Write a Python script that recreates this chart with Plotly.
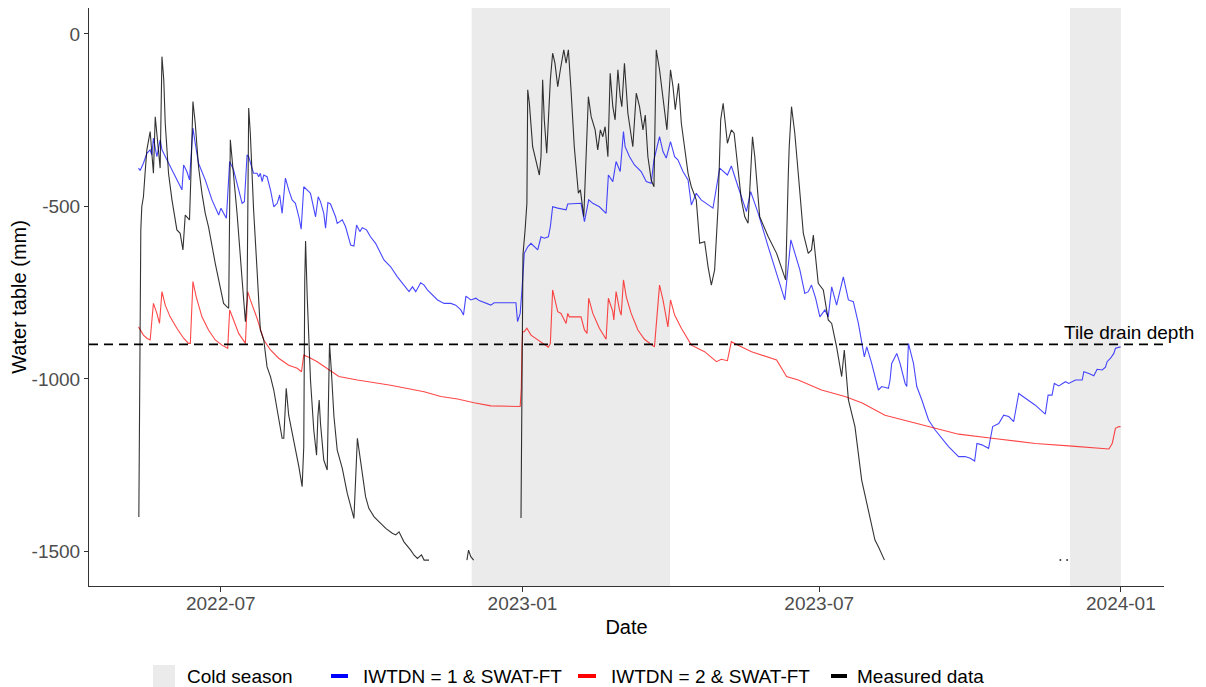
import pandas as pd
import plotly.graph_objects as go

# ---------------- data (days are offsets from 2022-07-01) ----------------
REF_DATE = "2022-07-01"

blue_day = [-50.2,-49.2,-47.2,-45.1,-43.1,-42.1,-41.1,-40.0,-39.0,-37.0,
            -35.9,-32.9,-28.9,-24.8,-23.7,-22.7,-20.7,-19.1,-17.6,-17.0,
            -15.6,-13.6,-9.5,-5.4,-1.3,0.1,1.7,3.4,5.4,7.8,
            10.9,13.0,14.4,16.0,17.0,20.0,22.1,23.1,24.1,25.2,
            26.2,28.2,30.3,32.3,34.4,35.9,37.4,39.4,41.4,43.5,
            45.5,47.6,49.0,50.6,53.7,54.7,57.8,59.4,60.8,62.8,
            63.9,65.3,66.9,70.0,71.0,74.1,76.1,79.2,81.2,82.8,
            84.8,86.3,88.9,91.3,94.4,97.5,99.5,103.6,107.7,111.7,
            114.8,116.9,118.9,121.9,124.0,126.0,129.1,132.2,136.2,140.3,
            143.3,146.4,148.0,149.5,152.5,155.6,157.6,160.6,164.7,166.7,
            170.8,180.0,181.0,182.6,183.7,184.1,185.1,187.2,189.2,193.3,
            195.3,197.3,199.8,201.0,202.4,205.5,210.6,211.6,215.6,219.7,
            221.8,224.4,226.9,230.9,235.0,236.4,239.1,241.1,243.6,245.6,
            246.6,249.3,252.3,256.4,259.5,262.5,264.2,267.6,269.7,271.7,
            274.3,276.8,278.8,281.9,285.0,287.0,290.0,293.0,300.2,304.3,
            309.0,311.4,315.5,318.6,320.6,323.2,327.8,333.9,344.0,347.7,
            353.2,356.2,358.3,360.3,362.8,365.4,368.5,370.5,372.6,375.6,
            379.7,382.8,385.8,388.9,392.5,394.0,397.0,401.1,403.1,407.2,
            408.2,409.2,412.3,414.3,417.4,418.4,419.4,422.5,424.5,427.6,
            431.7,435.7,439.8,443.9,450.0,454.0,457.1,459.8,461.2,464.2,
            468.3,470.8,474.5,477.5,480.6,483.6,486.7,490.7,496.8,502.9,
            504.6,507.0,508.4,511.1,515.2,517.2,521.3,525.4,526.4,529.5,
            532.5,534.5,537.6,539.6,540.6,542.7,544.7,545.7,548.8]
blue_val = [-389,-396,-375,-346,-336,-351,-302,-327,-356,-307,
            -336,-365,-404,-443,-452,-380,-399,-423,-327,-273,
            -317,-375,-423,-481,-525,-505,-520,-534,-370,-394,
            -452,-491,-486,-351,-356,-404,-404,-414,-404,-428,
            -409,-414,-452,-501,-491,-467,-520,-418,-452,-481,
            -491,-530,-566,-443,-457,-462,-530,-472,-486,-520,
            -563,-489,-493,-530,-549,-539,-559,-612,-615,-554,
            -573,-562,-568,-588,-607,-636,-655,-675,-704,-728,
            -747,-733,-747,-721,-728,-742,-757,-771,-781,-781,
            -786,-800,-815,-760,-771,-766,-773,-779,-786,-779,
            -779,-779,-834,-810,-742,-713,-636,-617,-607,-626,
            -588,-592,-588,-559,-501,-505,-510,-493,-491,-491,
            -544,-481,-491,-501,-520,-409,-428,-370,-399,-283,
            -327,-356,-380,-399,-428,-433,-365,-298,-341,-360,
            -312,-356,-365,-399,-423,-496,-462,-481,-505,-389,
            -409,-383,-443,-486,-515,-457,-520,-617,-771,-597,
            -684,-752,-747,-728,-766,-820,-800,-820,-733,-786,
            -704,-771,-776,-839,-936,-907,-955,-1032,-1022,-1027,
            -1003,-955,-926,-955,-1013,-1022,-897,-955,-1022,-1061,
            -1119,-1148,-1172,-1196,-1225,-1225,-1230,-1238,-1187,-1191,
            -1201,-1138,-1129,-1105,-1109,-1124,-1042,-1056,-1076,-1102,
            -1047,-1047,-1013,-1020,-1008,-1013,-1003,-1003,-979,-984,
            -991,-972,-974,-966,-950,-940,-926,-911,-907]

red_day = [-50.2,-49.2,-47.2,-45.1,-43.1,-41.1,-39.0,-37.4,-35.9,-33.9,
           -30.9,-26.8,-22.7,-19.7,-18.6,-17.0,-15.0,-11.5,-7.5,-3.4,
           0.7,4.2,5.4,7.8,10.9,15.0,16.4,18.0,22.1,26.2,
           30.3,35.3,41.4,46.6,49.2,50.6,53.7,58.8,62.8,66.9,
           72.0,83.3,103.6,124.0,134.2,144.4,154.5,164.7,182.6,183.3,
           183.7,184.1,185.1,186.7,189.2,193.3,197.3,199.8,201.0,202.4,
           205.5,207.5,210.6,211.6,212.6,219.7,221.8,223.4,224.4,226.9,
           230.9,235.0,236.4,239.1,239.7,241.1,243.2,244.2,245.6,247.3,
           250.3,254.4,258.4,264.5,267.6,269.7,272.7,274.3,276.8,280.9,
           287.0,295.1,302.3,305.3,309.0,311.4,315.5,323.7,339.0,345.1,
           352.2,366.4,380.7,390.9,405.1,425.5,450.0,470.4,496.8,517.2,
           541.7,543.7,545.7,547.8,548.8]
red_val = [-849,-858,-873,-882,-887,-781,-810,-839,-747,-786,
           -820,-853,-882,-897,-897,-718,-762,-820,-858,-887,
           -902,-911,-800,-829,-868,-897,-747,-771,-824,-887,
           -916,-940,-960,-969,-979,-931,-937,-950,-964,-976,
           -993,-1003,-1018,-1037,-1051,-1058,-1069,-1078,-1080,-1027,
           -906,-863,-863,-853,-873,-887,-902,-908,-897,-742,
           -805,-810,-839,-810,-820,-820,-858,-868,-766,-810,
           -853,-885,-766,-805,-829,-747,-800,-815,-713,-762,
           -810,-858,-885,-907,-728,-771,-849,-771,-815,-853,
           -902,-921,-950,-943,-947,-892,-902,-921,-945,-993,
           -1003,-1032,-1051,-1069,-1105,-1129,-1160,-1172,-1187,-1194,
           -1203,-1187,-1143,-1138,-1138]

# measured data, split into the pieces that are present in the record
meas1_day = [-50.0,-49.2,-48.8,-48.2,-47.2,-46.2,-45.1,-43.1,-42.1,-41.1,
             -40.0,-39.0,-38.0,-37.0,-35.9,-34.8,-33.9,-31.9,-29.8,-26.8,
             -24.8,-23.1,-21.7,-19.1,-18.2,-17.0,-15.6,-13.6,-11.5,-9.5,
             -7.5,-5.4,-3.4,-1.3,1.7,3.8,4.8,5.8,7.8,9.9,
             13.0,15.0,16.0,17.0,18.0,20.0,22.1,24.1,26.2,28.2,
             30.3,32.3,34.4,37.4,38.4,39.9,41.4,43.5,45.5,47.6,
             49.6,50.6,51.2,51.7,52.7,54.7,56.7,58.4,59.2,60.0,
             60.8,62.8,64.9,65.9,66.3,67.4,69.0,71.0,74.1,77.1,
             80.2,81.2,83.3,85.3,88.3,90.3,93.4,95.5,97.5,100.6,
             104.6,106.7,108.7,111.7,115.8,117.8,119.9,122.4,124.0,127.0]
meas1_val = [-1400,-800,-568,-501,-472,-404,-336,-283,-354,-404,
             -240,-298,-346,-389,-66,-133,-259,-404,-481,-568,
             -578,-626,-525,-539,-404,-196,-259,-385,-462,-520,
             -559,-620,-665,-713,-781,-791,-795,-307,-414,-520,
             -713,-834,-771,-215,-288,-510,-684,-858,-887,-965,
             -993,-1032,-1090,-1172,-1172,-1027,-1105,-1153,-1196,-1254,
             -1312,-1196,-713,-600,-762,-1003,-1148,-1221,-1109,-1061,
             -1129,-1235,-1264,-955,-897,-974,-1109,-1206,-1259,-1331,
             -1390,-1404,-1172,-1245,-1341,-1375,-1399,-1409,-1418,-1433,
             -1447,-1452,-1443,-1472,-1496,-1510,-1520,-1510,-1525,-1525]

meas2_day = [150.1,151.1,152.5,154.2]
meas2_val = [-1525,-1496,-1515,-1525]

meas3_day = [183.1,183.7,184.3,185.6,186.7,187.2,188.2,190.2,192.2,194.3,
             195.3,196.3,197.3,198.8,201.0,202.4,203.8,205.5,207.1,209.2,
             210.6,212.0,213.6,215.6,218.1,219.3,221.4,224.2,225.9,228.3,
             229.9,231.5,233.0,234.4,236.1,237.5,239.1,240.5,242.2,243.6,
             244.6,246.2,248.3,251.3,253.4,255.4,257.5,258.9,260.5,262.5,
             264.2,265.6,267.6,269.7,272.1,274.3,275.8,277.2,279.2,280.9,
             285.0,287.0,290.0,292.1,295.1,297.2,299.2,301.2,303.3,304.9,
             306.4,309.0,311.4,313.1,315.5,317.5,319.6,321.6,324.3,325.7,
             328.7,333.9,339.0,342.0,344.5,346.1,346.7,348.1,350.1,352.2,
             355.3,358.3,360.3,361.4,362.8,364.4,367.5,370.5,372.6,375.6,
             378.7,380.3,382.8,386.8,390.9,395.0,399.0,401.1,402.7,404.8]
meas3_val = [-1403,-860,-640,-568,-491,-162,-201,-327,-365,-409,
             -356,-133,-249,-346,-133,-56,-85,-153,-104,-46,
             -85,-46,-162,-327,-462,-452,-530,-182,-240,-278,
             -336,-278,-298,-269,-356,-114,-211,-249,-104,-182,
             -211,-85,-230,-327,-172,-211,-278,-235,-356,-423,
             -443,-46,-104,-182,-278,-104,-153,-220,-143,-259,
             -404,-443,-481,-607,-602,-675,-728,-684,-501,-249,
             -201,-317,-278,-288,-404,-481,-530,-549,-298,-356,
             -530,-588,-636,-675,-713,-414,-327,-211,-288,-404,
             -578,-636,-626,-583,-655,-723,-742,-829,-839,-907,
             -993,-916,-1061,-1138,-1293,-1380,-1467,-1486,-1505,-1525]

meas4_day = [512.1,516.2]
meas4_val = [-1525,-1525]

cold_start = ["2022-12-01", "2023-12-01"]
cold_end = ["2023-04-01", "2024-01-01"]
tile_drain_depth = -900

x_tick_vals = ["2022-07-01", "2023-01-01", "2023-07-01", "2024-01-01"]
x_tick_text = ["2022-07", "2023-01", "2023-07", "2024-01"]
y_tick_vals = [-1500, -1000, -500, 0]
y_tick_text = ["-1500", "-1000", "-500", "0"]

legend_names = ["IWTDN = 1 & SWAT-FT", "IWTDN = 2 & SWAT-FT", "Measured data"]

# ---------------- helpers ----------------
base = pd.Timestamp(REF_DATE)


def to_dates(days):
    return [(base + pd.Timedelta(days=d)).strftime("%Y-%m-%d %H:%M:%S") for d in days]


meas_x, meas_y = [], []
for dd, vv in [(meas1_day, meas1_val), (meas2_day, meas2_val), (meas3_day, meas3_val)]:
    if meas_x:
        meas_x.append(None)
        meas_y.append(None)
    meas_x += to_dates(dd)
    meas_y += vv

FONT = "Liberation Sans, Arial, sans-serif"
BLUE = "rgba(0,0,255,0.72)"
RED = "rgba(255,0,0,0.72)"
BLACK = "rgba(0,0,0,0.8)"
KEY_COLORS = ["#0000FF", "#FF0000", "#000000"]

fig = go.Figure()

fig.add_trace(go.Scatter(x=to_dates(blue_day), y=blue_val, mode="lines",
                         name=legend_names[0],
                         line=dict(color=BLUE, width=1.1), showlegend=False))
fig.add_trace(go.Scatter(x=to_dates(red_day), y=red_val, mode="lines",
                         name=legend_names[1],
                         line=dict(color=RED, width=1.1), showlegend=False))
fig.add_trace(go.Scatter(x=meas_x, y=meas_y, mode="lines", connectgaps=False,
                         name=legend_names[2],
                         line=dict(color=BLACK, width=1.1), showlegend=False))
fig.add_trace(go.Scatter(x=to_dates(meas4_day), y=meas4_val, mode="markers",
                         marker=dict(color=BLACK, size=2), showlegend=False))

# ---- layout geometry (page has an 8px body margin) ----
PLOT_L, PLOT_R, PLOT_T, PLOT_B = 89, 1164, 8, 586   # window pixels of the panel
PW, PH = PLOT_R - PLOT_L, PLOT_B - PLOT_T


def px(xw):
    return (xw - PLOT_L) / PW


def py(yw):
    return (PLOT_B - yw) / PH


shapes = []
for s, e in zip(cold_start, cold_end):
    shapes.append(dict(type="rect", xref="x", yref="paper", x0=s, x1=e, y0=0, y1=1,
                       fillcolor="#EBEBEB", line=dict(width=0), layer="below"))
shapes.append(dict(type="line", xref="paper", yref="y", x0=0, x1=1,
                   y0=tile_drain_depth, y1=tile_drain_depth,
                   line=dict(color="black", width=1.8, dash="9px,6px")))

# manual legend (ggplot style, at the bottom)
LEG_Y = 676
shapes.append(dict(type="rect", xref="paper", yref="paper",
                   x0=px(153), x1=px(175), y0=py(687), y1=py(665),
                   fillcolor="#EBEBEB", line=dict(width=0)))
key_x = [(331, 348), (578, 596), (831, 847)]
text_x = [361, 609, 855]
for (k0, k1), col in zip(key_x, KEY_COLORS):
    shapes.append(dict(type="line", xref="paper", yref="paper",
                       x0=px(k0), x1=px(k1), y0=py(LEG_Y), y1=py(LEG_Y),
                       line=dict(color=col, width=4)))

annotations = [dict(x=(base + pd.Timedelta(days=554)).strftime("%Y-%m-%d"),
                    y=tile_drain_depth, xref="x", yref="y",
                    text="Tile drain depth", showarrow=False,
                    yanchor="bottom", xanchor="center", yshift=-1,
                    font=dict(family=FONT, size=19, color="black"))]
annotations.append(dict(x=px(185), y=py(LEG_Y), xref="paper", yref="paper",
                        text="Cold season", showarrow=False,
                        xanchor="left", yanchor="middle",
                        font=dict(family=FONT, size=19, color="black")))
for tx, nm in zip(text_x, legend_names):
    annotations.append(dict(x=px(tx), y=py(LEG_Y), xref="paper", yref="paper",
                            text=nm, showarrow=False,
                            xanchor="left", yanchor="middle",
                            font=dict(family=FONT, size=19, color="black")))

fig.update_layout(
    width=1206, height=687,
    margin=dict(l=PLOT_L - 8, r=1206 - (PLOT_R - 8), t=PLOT_T - 8, b=687 - (PLOT_B - 8)),
    plot_bgcolor="white", paper_bgcolor="white",
    font=dict(family=FONT, size=19, color="black"),
    showlegend=False,
    shapes=shapes,
    annotations=annotations,
    xaxis=dict(type="date", automargin=False,
               range=[(base + pd.Timedelta(days=-80.4)).strftime("%Y-%m-%d %H:%M"),
                      (base + pd.Timedelta(days=575.3)).strftime("%Y-%m-%d %H:%M")],
               tickmode="array", tickvals=x_tick_vals, ticktext=x_tick_text,
               ticks="outside", ticklen=5, tickcolor="#333333", tickwidth=1,
               ticklabelstandoff=-5,
               showline=True, linecolor="#333333", linewidth=1,
               showgrid=False, zeroline=False,
               tickfont=dict(family=FONT, size=19, color="#4D4D4D"),
               title=dict(text="Date", font=dict(family=FONT, size=20, color="black"),
                          standoff=7)),
    yaxis=dict(range=[-1600, 75], automargin=False,
               tickmode="array", tickvals=y_tick_vals, ticktext=y_tick_text,
               ticks="outside", ticklen=4, tickcolor="#333333", tickwidth=1,
               showline=True, linecolor="#333333", linewidth=1,
               showgrid=False, zeroline=False,
               tickfont=dict(family=FONT, size=19, color="#4D4D4D"),
               title=dict(text="Water table (mm)",
                          font=dict(family=FONT, size=20, color="black"),
                          standoff=3)),
)

fig.write_html("out.html")
